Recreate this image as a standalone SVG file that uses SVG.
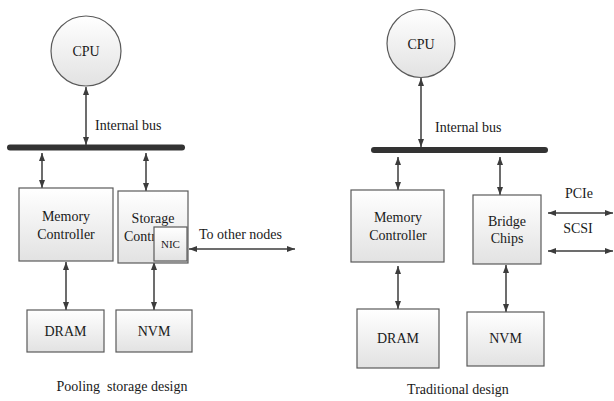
<svg xmlns="http://www.w3.org/2000/svg" width="614" height="401" viewBox="0 0 614 401">
<defs>
<linearGradient id="g" x1="0" y1="0" x2="0" y2="1">
<stop offset="0" stop-color="#ffffff"/>
<stop offset="1" stop-color="#e2e2e2"/>
</linearGradient>
<marker id="ah" viewBox="0 0 8 6" refX="8" refY="3" markerWidth="8" markerHeight="6" markerUnits="userSpaceOnUse" orient="auto-start-reverse">
<path d="M0,0 L8,3 L0,6 z" fill="#3c3c3c"/>
</marker>
</defs>
<style>
.box{fill:url(#g);stroke:#5a5a5a;stroke-width:1.2}
.t{fill:#1a1a1a;text-anchor:middle}
.c{stroke:#3c3c3c;stroke-width:1.5;fill:none;marker-start:url(#ah);marker-end:url(#ah)}
.bus{stroke:#333;stroke-width:6;stroke-linecap:round}
</style>
<rect width="614" height="401" fill="#fff"/>

<g id="connectors">
<line class="bus" x1="10" y1="147.5" x2="182" y2="147.5"/>
<line class="bus" x1="374" y1="150" x2="545" y2="150"/>
<line class="c" x1="86" y1="87" x2="86" y2="145"/>
<line class="c" x1="42" y1="153" x2="42" y2="188"/>
<line class="c" x1="146" y1="153" x2="146" y2="191"/>
<line class="c" x1="66" y1="262" x2="66" y2="310"/>
<line class="c" x1="154" y1="262" x2="154" y2="310"/>
<line class="c" x1="189" y1="249" x2="295" y2="249"/>
<line class="c" x1="421" y1="78" x2="421" y2="147"/>
<line class="c" x1="398" y1="157" x2="398" y2="190"/>
<line class="c" x1="500" y1="157" x2="500" y2="195"/>
<line class="c" x1="398" y1="266" x2="398" y2="309"/>
<line class="c" x1="506" y1="265" x2="506" y2="312"/>
<line class="c" x1="548" y1="213" x2="613" y2="213"/>
<line class="c" x1="548" y1="251" x2="613" y2="251"/>
</g>

<g font-family="Liberation Serif" font-size="14">
<g id="cpu1"><circle class="box" cx="86" cy="51" r="35"/><text class="t" x="86" y="56">CPU</text></g>
<g id="bus1"><text class="t" x="95" y="130" text-anchor="start" style="text-anchor:start">Internal bus</text></g>
<g id="mc1"><rect class="box" x="19" y="188" width="94" height="73"/><text class="t" x="66" y="221">Memory</text><text class="t" x="66" y="239">Controller</text></g>
<g id="sc1"><rect class="box" x="118" y="191" width="70" height="72"/><text class="t" x="153" y="223">Storage</text><text class="t" x="124" y="241" style="text-anchor:start">Contr</text></g>
<g id="nic1"><rect class="box" x="154" y="227" width="33" height="34"/><text class="t" x="170.5" y="248" font-size="11">NIC</text></g>
<g id="net1"><text class="t" x="199" y="239" style="text-anchor:start">To other nodes</text></g>
<g id="dram1"><rect class="box" x="27" y="310" width="77" height="42"/><text class="t" x="65.5" y="336">DRAM</text></g>
<g id="nvm1"><rect class="box" x="116" y="310" width="76" height="42"/><text class="t" x="154" y="336">NVM</text></g>
<g id="cap1"><text class="t" x="122" y="391" xml:space="preserve">Pooling  storage design</text></g>

<g id="cpu2"><circle class="box" cx="421" cy="43.5" r="34"/><text class="t" x="421" y="48.5">CPU</text></g>
<g id="bus2"><text class="t" x="435" y="132" style="text-anchor:start">Internal bus</text></g>
<g id="mc2"><rect class="box" x="351" y="190" width="93" height="72"/><text class="t" x="398" y="222">Memory</text><text class="t" x="398" y="240">Controller</text></g>
<g id="bc2"><rect class="box" x="473" y="195" width="68" height="69"/><text class="t" x="507" y="226">Bridge</text><text class="t" x="507" y="243">Chips</text></g>
<g id="pcie"><text class="t" x="579" y="198">PCIe</text></g>
<g id="scsi"><text class="t" x="578" y="233">SCSI</text></g>
<g id="dram2"><rect class="box" x="357" y="309" width="82" height="59"/><text class="t" x="398" y="343">DRAM</text></g>
<g id="nvm2"><rect class="box" x="467" y="312" width="77" height="54"/><text class="t" x="505.5" y="343">NVM</text></g>
<g id="cap2"><text class="t" x="458" y="394">Traditional design</text></g>
</g>
</svg>
